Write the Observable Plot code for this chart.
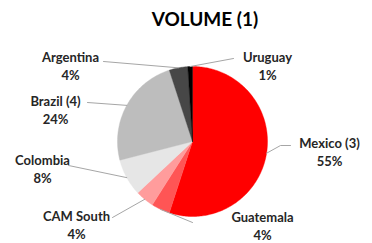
<!DOCTYPE html>
<html><head><meta charset="utf-8">
<script src="https://cdn.jsdelivr.net/npm/d3@7"></script>
<script src="https://cdn.jsdelivr.net/npm/@observablehq/plot@0.6"></script>
<style>body{margin:0;background:#fff}</style>
</head><body><div id="chart"></div>
<script>
// ---- data ----
const title = "VOLUME (1)";
const names = ["Mexico (3)", "Guatemala", "CAM South", "Colombia", "Brazil (4)", "Argentina", "Uruguay"];
const shares = [55, 4, 4, 8, 24, 4, 1];

// ---- style / layout (not data) ----
const colors = ["#ff0000", "#ff5555", "#ff9c9c", "#e6e6e6", "#bdbdbd", "#474747", "#000000"];
const R = 75; // pie radius in layout units
// label centres relative to pie centre (y up)
const labelPos = [[137, -10], [70, -84], [-116, -83], [-150, -26.5], [-137, 32], [-122, 76], [75, 76]];
// leader line extra points after the slice edge point
const leaderPts = [
  [[88, -4], [98, -4]],
  [[0, -81]],
  [[-80, -76]],
  [[-124, -24]],
  [[-105, 39]],
  [[-89, 80]],
  [[41, 83]]
];
const titlePos = [12.5, 122];

const total = d3.sum(shares);
let acc = 0;
const slices = names.map((name, i) => {
  const a0 = acc / total * 2 * Math.PI;
  acc += shares[i];
  const a1 = acc / total * 2 * Math.PI;
  return {name, share: shares[i], color: colors[i], a0, a1, mid: (a0 + a1) / 2, i};
});

const piePts = slices.flatMap(s => {
  const n = Math.max(2, Math.ceil((s.a1 - s.a0) / (Math.PI / 180)));
  const pts = [{name: s.name, color: s.color, x: 0, y: 0}];
  for (let k = 0; k <= n; k++) {
    const a = s.a0 + (s.a1 - s.a0) * k / n;
    pts.push({name: s.name, color: s.color, x: R * Math.sin(a), y: R * Math.cos(a)});
  }
  pts.push({name: s.name, color: s.color, x: 0, y: 0});
  return pts;
});

const leaders = slices.flatMap(s => [
  {name: s.name, x: R * Math.sin(s.mid), y: R * Math.cos(s.mid)},
  ...leaderPts[s.i].map(([x, y]) => ({name: s.name, x, y}))
]);

const chart = Plot.plot({
  width: 372,
  height: 243,
  margin: 0,
  x: {domain: [-192, 180], axis: null},
  y: {domain: [-102, 141], axis: null},
  color: {type: "identity"},
  style: {fontFamily: "Lato, 'Open Sans', sans-serif", background: "#fff"},
  marks: [
    Plot.line(piePts, {x: "x", y: "y", z: "name", fill: "color", stroke: "color", strokeWidth: 0.4, curve: "linear"}),
    Plot.line(leaders, {x: "x", y: "y", z: "name", stroke: "#a6a6a6", strokeWidth: 1}),
    Plot.text(slices, {
      x: s => labelPos[s.i][0], y: s => labelPos[s.i][1],
      text: s => `${s.name}\n${s.share}%`,
      lineHeight: 1.4, fontSize: 13, fontWeight: "bold", fill: "#262626", textAnchor: "middle"
    }),
    Plot.text([title], {x: () => titlePos[0], y: () => titlePos[1], text: d => d, fontSize: 19, fontWeight: "bold", fill: "#000"})
  ]
});
document.getElementById("chart").append(chart);
</script>
</body></html>
